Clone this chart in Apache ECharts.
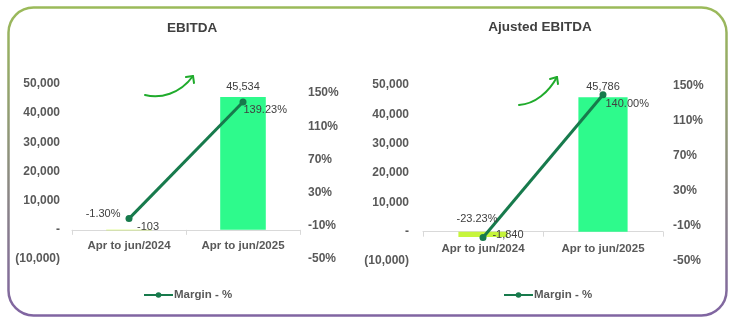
<!DOCTYPE html>
<html>
<head>
<meta charset="utf-8">
<script src="https://cdn.jsdelivr.net/npm/echarts@6/dist/echarts.min.js"></script>
<style>
html,body{margin:0;padding:0;background:#fff;}
#c{width:740px;height:324px;}
</style>
</head>
<body>
<div id="c"></div>
<script>
// ---- data ----
var categories = ['Apr to jun/2024', 'Apr to jun/2025'];
var ebitdaValues = [-103, 45534];
var ebitdaMargin = [-1.30, 139.23];
var adjValues = [-1840, 45786];
var adjMargin = [-23.23, 140.00];
var leftTicks = { min: -10000, max: 50000, interval: 10000 };
var rightTicks = { min: -50, max: 150, interval: 40 };
var titles = ['EBITDA', 'Ajusted EBITDA'];
var legendName = 'Margin - %';

// ---- styles ----
var FONT = '"Liberation Sans", Arial, sans-serif';
var barColors = ['#c6f53c', '#2efa8c'];
var lineColor = '#177a4c';
var axisTextColor = '#595959';
var labelColor = '#404040';
var arrowColor = '#20ab2c';

function fmtLeft(v) {
  if (v === 0) return '-';
  if (v < 0) return '(' + Math.abs(v).toLocaleString('en-US') + ')';
  return v.toLocaleString('en-US');
}
function fmtRight(v) { return v + '%'; }

var chart = echarts.init(document.getElementById('c'), null, { renderer: 'canvas' });

var grids = [
  { left: 72, right: 440, top: 84, bottom: 65 },
  { left: 72, right: 440, top: 93, bottom: 65 },
  { left: 423, right: 77, top: 85, bottom: 63 },
  { left: 423, right: 77, top: 86, bottom: 63 }
];

function catAxis(gi, visible, margin) {
  return {
    type: 'category', gridIndex: gi, data: categories, show: visible,
    axisLine: { show: visible, onZero: true, lineStyle: { color: '#d9d9d9', width: 1 } },
    axisTick: { show: visible, length: 5, lineStyle: { color: '#d9d9d9' } },
    axisLabel: { show: visible, color: axisTextColor, fontFamily: FONT, fontWeight: 'bold', fontSize: 11.5, margin: margin },
    splitLine: { show: false }
  };
}
function valAxis(gi, pos, ticks, fmt, margin) {
  return {
    type: 'value', gridIndex: gi, position: pos,
    min: ticks.min, max: ticks.max, interval: ticks.interval,
    axisLine: { show: false }, axisTick: { show: false }, splitLine: { show: false },
    axisLabel: { color: axisTextColor, fontFamily: FONT, fontWeight: 'bold', fontSize: 12, margin: margin, formatter: fmt }
  };
}

function barData(values, labelOffsets) {
  return values.map(function (v, i) {
    var item = { value: v, itemStyle: { color: barColors[i] } };
    if (labelOffsets[i]) item.label = labelOffsets[i];
    return item;
  });
}
function lineData(values, labelCfgs) {
  return values.map(function (v, i) {
    return { value: v, label: labelCfgs[i] };
  });
}

var barLabelBase = {
  show: true, color: labelColor, fontFamily: FONT, fontSize: 11, position: 'top',
  formatter: function (p) { return p.value.toLocaleString('en-US'); }
};
var lineLabelBase = {
  show: true, color: labelColor, fontFamily: FONT, fontSize: 11,
  formatter: function (p) { return p.value.toFixed(2) + '%'; }
};

function legendCfg(left) {
  return {
    data: [legendName], left: left, top: 289, itemWidth: 29, itemHeight: 7, itemGap: 4,
    padding: 0, selectedMode: false,
    textStyle: { color: axisTextColor, fontFamily: FONT, fontWeight: 'bold', fontSize: 11.5, padding: [0, 0, 0, -4] }
  };
}

function arrow(x0, y0, c1x, c1y, c2x, c2y, x1, y1, a1, a2) {
  return [
    { type: 'bezierCurve', shape: { x1: x0, y1: y0, cpx1: c1x, cpy1: c1y, cpx2: c2x, cpy2: c2y, x2: x1, y2: y1 },
      style: { stroke: arrowColor, lineWidth: 2, fill: null, lineCap: 'round' }, z: 10 },
    { type: 'polyline', shape: { points: [a1, [x1, y1], a2] },
      style: { stroke: arrowColor, lineWidth: 2, fill: null, lineCap: 'round', lineJoin: 'round' }, z: 10 }
  ];
}

var graphics = [
  { type: 'rect', shape: { x: 8.5, y: 7.5, width: 718, height: 308, r: 25 },
    style: { fill: null, lineWidth: 2.5,
      stroke: new echarts.graphic.LinearGradient(0, 0, 0, 1, [
        { offset: 0, color: '#9bbb59' }, { offset: 1, color: '#8064a2' }]) }, z: 0 },
  { type: 'text', x: 192, y: 28, style: { text: titles[0], fill: '#404040', font: 'bold 13.5px ' + FONT, textAlign: 'center', textVerticalAlign: 'middle' }, z: 10 },
  { type: 'text', x: 540, y: 27, style: { text: titles[1], fill: '#404040', font: 'bold 13.5px ' + FONT, textAlign: 'center', textVerticalAlign: 'middle' }, z: 10 }
].concat(
  arrow(145, 95, 160, 99, 180, 94, 193, 76, [186, 77], [194, 83]),
  arrow(519, 105, 535, 104, 549, 92, 557, 77, [550, 79], [558, 84])
);

var option = {
  animation: false,
  backgroundColor: '#ffffff',
  grid: grids,
  xAxis: [catAxis(0, true, -19), catAxis(1, false, 8), catAxis(2, true, -18), catAxis(3, false, 8)],
  yAxis: [
    valAxis(0, 'left', leftTicks, fmtLeft, 12),
    valAxis(1, 'right', rightTicks, fmtRight, 8),
    valAxis(2, 'left', leftTicks, fmtLeft, 14),
    valAxis(3, 'right', rightTicks, fmtRight, 10)
  ],
  legend: [legendCfg(143), legendCfg(503)],
  series: [
    { type: 'bar', name: 'EBITDA', xAxisIndex: 0, yAxisIndex: 0, barWidth: '40%',
      label: barLabelBase,
      data: barData(ebitdaValues, [{ position: 'inside', offset: [19, -3] }, null]) },
    { type: 'line', name: legendName, xAxisIndex: 1, yAxisIndex: 1, z: 5,
      symbol: 'circle', symbolSize: 7, lineStyle: { color: lineColor, width: 3 }, itemStyle: { color: lineColor },
      label: lineLabelBase,
      data: lineData(ebitdaMargin, [{ position: 'left', offset: [0, -5] }, { position: 'right', offset: [-8, 8] }]) },
    { type: 'bar', name: 'Ajusted EBITDA', xAxisIndex: 2, yAxisIndex: 2, barWidth: '41%',
      label: barLabelBase,
      data: barData(adjValues, [{ position: 'inside', offset: [25, 1] }, null]) },
    { type: 'line', name: legendName, xAxisIndex: 3, yAxisIndex: 3, z: 5,
      symbol: 'circle', symbolSize: 7, lineStyle: { color: lineColor, width: 3 }, itemStyle: { color: lineColor },
      label: lineLabelBase,
      data: lineData(adjMargin, [{ position: 'top', offset: [-6, -5] }, { position: 'right', offset: [-6, 9] }]) }
  ],
  graphic: graphics
};
chart.setOption(option);
</script>
</body>
</html>
